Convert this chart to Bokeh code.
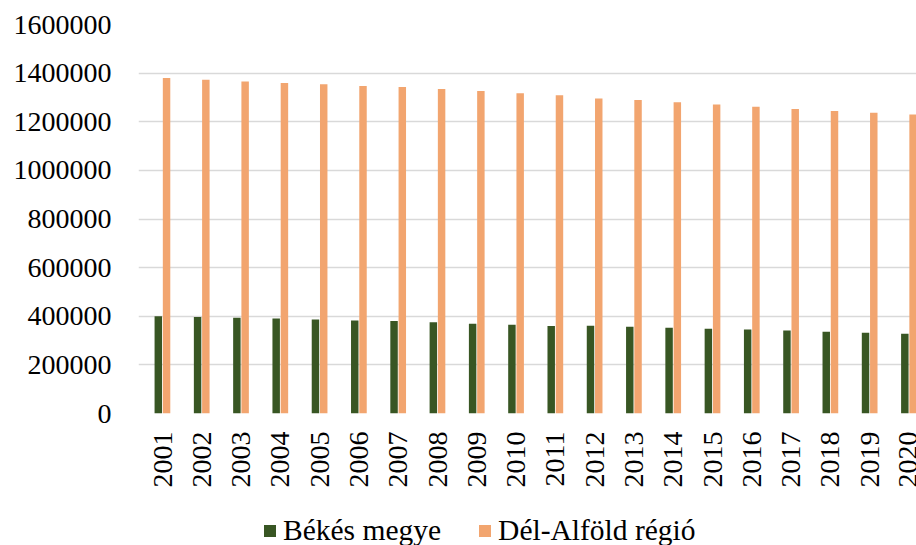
import math
from bokeh.plotting import figure
from bokeh.layouts import column
from bokeh.models import ColumnDataSource, Range1d, FixedTicker, BasicTickFormatter, Legend, LegendItem
from bokeh.transform import dodge
from bokeh.embed import file_html
from bokeh.resources import INLINE

years = list(range(2001, 2021))
bekes = [399600, 397000, 394000, 391000, 387000, 383000, 380000, 375000, 369000, 365000,
         360000, 361000, 357000, 353000, 349000, 345000, 341000, 336000, 332000, 328000]
del_alfold = [1380000, 1373000, 1366000, 1359000, 1354000, 1347000, 1343000, 1335000, 1326000, 1317000,
              1309000, 1296000, 1289000, 1280000, 1271000, 1262000, 1252000, 1244000, 1237000, 1230000]
series_names = ["Békés megye", "Dél-Alföld régió"]
y_ticks = [0, 200000, 400000, 600000, 800000, 1000000, 1200000, 1400000, 1600000]

GREEN = "#385623"
ORANGE = "#F2A56F"
FONT = "Liberation Serif"

src = ColumnDataSource(dict(year=years, bekes=bekes, dal=del_alfold))

p = figure(width=916, height=500, output_backend="svg", toolbar_location=None,
           x_range=Range1d(2000.389, 2020.19), y_range=Range1d(0, 1600000),
           min_border_left=138, min_border_right=0, min_border_top=24, min_border_bottom=87)
p.outline_line_color = None
p.background_fill_color = "white"
p.border_fill_color = "white"

p.vbar(x=dodge("year", -0.107, range=p.x_range), top="bekes", width=0.19, source=src,
       fill_color=GREEN, line_color=None)
p.vbar(x=dodge("year", 0.103, range=p.x_range), top="dal", width=0.19, source=src,
       fill_color=ORANGE, line_color=None)

# axes
p.xaxis.ticker = FixedTicker(ticks=years)
p.xaxis.major_label_orientation = math.pi / 2
p.xaxis.axis_line_color = None
p.xaxis.major_tick_line_color = None
p.xaxis.minor_tick_line_color = None
p.xaxis.major_tick_out = 0
p.xaxis.major_label_standoff = 18
p.xaxis.major_label_text_font = FONT
p.xaxis.major_label_text_font_size = "28px"
p.xaxis.major_label_text_color = "black"

p.yaxis.ticker = FixedTicker(ticks=y_ticks)
p.yaxis.formatter = BasicTickFormatter(use_scientific=False)
p.yaxis.axis_line_color = None
p.yaxis.major_tick_line_color = None
p.yaxis.minor_tick_line_color = None
p.yaxis.major_tick_out = 0
p.yaxis.major_label_standoff = 27
p.yaxis.major_label_text_font = FONT
p.yaxis.major_label_text_font_size = "28px"
p.yaxis.major_label_text_color = "black"

p.xgrid.grid_line_color = None
p.ygrid.grid_line_color = "#d9d9d9"
p.ygrid.grid_line_width = 1.6

# legend strip below the chart (its swatch renderers lie outside this strip's ranges)
pl = figure(width=916, height=45, output_backend="svg", toolbar_location=None,
            x_range=Range1d(0, 1), y_range=Range1d(0, 1),
            min_border_left=0, min_border_right=0, min_border_top=0, min_border_bottom=0)
pl.axis.visible = False
pl.grid.visible = False
pl.outline_line_color = None
pl.background_fill_color = "white"
pl.border_fill_color = "white"
lg1 = pl.vbar(x="year", top="bekes", width=0.19, source=src, fill_color=GREEN, line_color=None)
lg2 = pl.vbar(x="year", top="dal", width=0.19, source=src, fill_color=ORANGE, line_color=None)

legend = Legend(items=[LegendItem(label=series_names[0], renderers=[lg1]),
                       LegendItem(label=series_names[1], renderers=[lg2])],
                orientation="horizontal", location=(124, -2),
                glyph_width=15, glyph_height=15, label_standoff=6, spacing=36,
                padding=0, margin=0, border_line_color=None, background_fill_alpha=0,
                label_text_font=FONT, label_text_font_size="29.5px", label_text_color="black")
pl.add_layout(legend, "center")

open("out.html", "w").write(file_html(column(p, pl, spacing=0), INLINE))
